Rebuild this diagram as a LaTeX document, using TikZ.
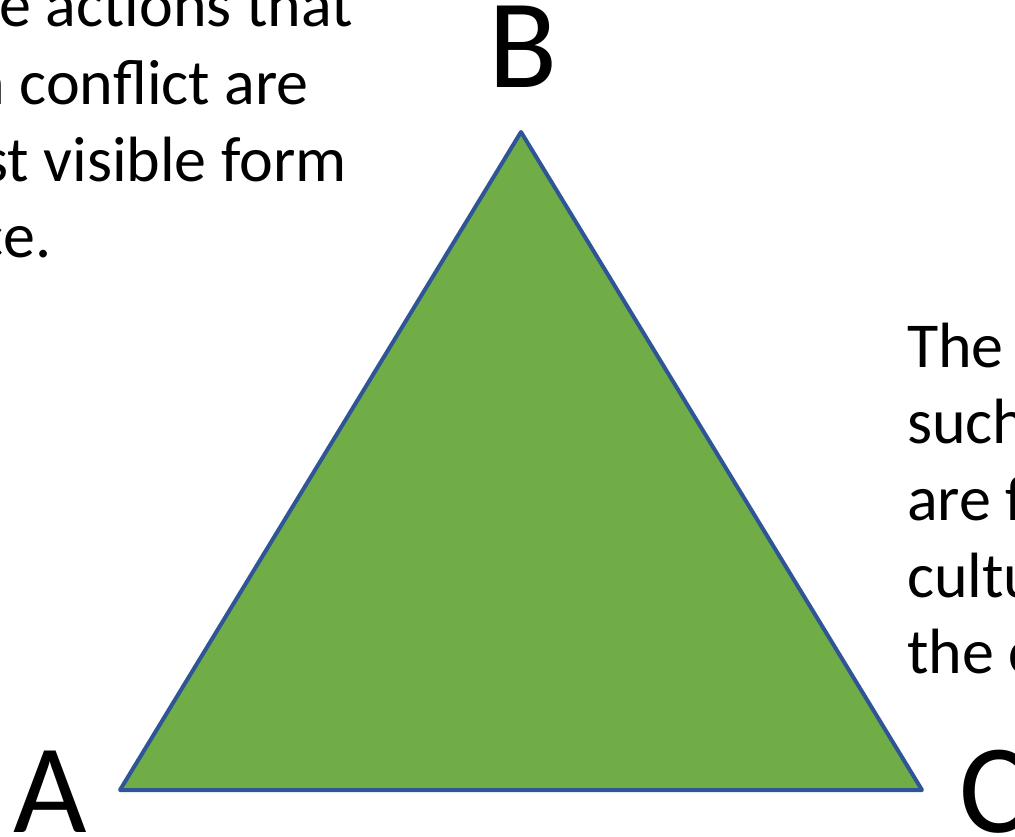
\documentclass[tikz,border=0pt]{standalone}
\usepackage{fontspec}
\setmainfont{Carlito}
\definecolor{trifill}{HTML}{70AD47}
\definecolor{triline}{HTML}{2F5597}
\begin{document}
\begin{tikzpicture}[x=1pt,y=-1pt,
  vlabel/.style={inner sep=0pt, font=\fontsize{127}{127}\selectfont},
  bodytext/.style={inner sep=0pt, font=\fontsize{64}{77}\selectfont}]
\useasboundingbox (0,0) rectangle (1015,837);
\clip (0,0) rectangle (1015,837);
\coordinate (A) at (120,790);
\coordinate (B) at (521,132);
\coordinate (C) at (922,790);
\draw[fill=trifill, draw=triline, line width=4pt, line join=round] (A) -- (B) -- (C) -- cycle;
\node[vlabel, anchor=base] (la) at (50,832) {A};
\node[vlabel, anchor=base] (lb) at (523,88) {B};
\node[vlabel, anchor=base west] (lc) at (959,832) {C};
\node[bodytext, anchor=base east] (l1) at (353,27) {The actions that};
\node[bodytext, anchor=base east] (l2) at (309,105) {in conflict are};
\node[bodytext, anchor=base east] (l3) at (347,182) {most visible form};
\node[bodytext, anchor=base east] (l4) at (52,258) {violence.};
\node[bodytext, anchor=base west] (r1) at (907,367) {The};
\node[bodytext, anchor=base west] (r2) at (907,443) {such};
\node[bodytext, anchor=base west] (r3) at (907,520) {are f};
\node[bodytext, anchor=base west] (r4) at (907,597) {cultu};
\node[bodytext, anchor=base west] (r5) at (907,673) {the c};
\end{tikzpicture}
\end{document}
